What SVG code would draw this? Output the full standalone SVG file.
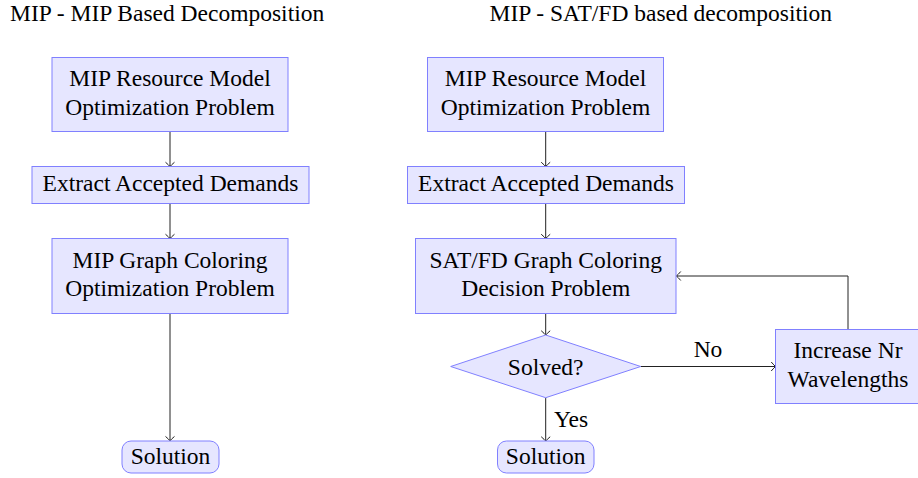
<svg xmlns="http://www.w3.org/2000/svg" width="918" height="478" viewBox="0 0 918 478" font-family="'Liberation Serif', 'DejaVu Serif', serif" font-size="23.5">
<defs>
<style>
text{font-family:'Liberation Serif','DejaVu Serif',serif;font-size:23.5px;fill:#000}
.c{text-anchor:middle}
.n{fill:#E6E6FF;stroke:#8080FF;stroke-width:1}
.e{fill:none;stroke:#222;stroke-width:1;marker-end:url(#ah)}
</style>
<marker id="ah" markerUnits="userSpaceOnUse" markerWidth="12" markerHeight="12" refX="0" refY="0" viewBox="-6 -6 12 12" orient="auto" overflow="visible">
<path d="M-4,-4.2 Q-1.2,-1 0,0 Q-1.2,1 -4,4.2" fill="none" stroke="#222" stroke-width="1" stroke-linecap="round"/>
</marker>
</defs>
<rect width="918" height="478" fill="#fff"/>
<g id="titles">
<text x="10" y="20.5">MIP - MIP Based Decomposition</text>
<text x="489.5" y="20.5">MIP - SAT/FD based decomposition</text>
</g>
<g id="connectors">
<path class="e" d="M170,131.7V166.5"/>
<path class="e" d="M170,203.7V238.5"/>
<path class="e" d="M170,313.5V440.7"/>
<path class="e" d="M545.7,131.7V166.5"/>
<path class="e" d="M545.7,203.7V238.5"/>
<path class="e" d="M545.7,313.5V335"/>
<path class="e" d="M545.7,397.7V441"/>
<path class="e" d="M640.7,366.5H775.5"/>
<path class="e" d="M848,329.5V276H676.5"/>
<text x="708" y="357" class="c">No</text>
<text x="554" y="427">Yes</text>
</g>
<g id="l-resource">
<rect class="n" x="52" y="57.5" width="236" height="74"/>
<text class="c" x="170" y="86">MIP Resource Model</text>
<text class="c" x="170" y="115">Optimization Problem</text>
</g>
<g id="l-extract">
<rect class="n" x="32" y="166.5" width="277" height="37"/>
<text class="c" x="170.5" y="191">Extract Accepted Demands</text>
</g>
<g id="l-coloring">
<rect class="n" x="52" y="238.5" width="236" height="75"/>
<text class="c" x="170" y="267.5">MIP Graph Coloring</text>
<text class="c" x="170" y="296">Optimization Problem</text>
</g>
<g id="l-solution">
<rect class="n" x="122" y="441" width="97" height="32" rx="9"/>
<text class="c" x="170.5" y="464">Solution</text>
</g>
<g id="r-resource">
<rect class="n" x="427.5" y="57.5" width="236" height="74"/>
<text class="c" x="545.5" y="86">MIP Resource Model</text>
<text class="c" x="545.5" y="115">Optimization Problem</text>
</g>
<g id="r-extract">
<rect class="n" x="407.5" y="166.5" width="277" height="37"/>
<text class="c" x="546" y="191">Extract Accepted Demands</text>
</g>
<g id="r-coloring">
<rect class="n" x="415.5" y="238.5" width="260.5" height="75"/>
<text class="c" x="545.7" y="267.5">SAT/FD Graph Coloring</text>
<text class="c" x="545.7" y="296">Decision Problem</text>
</g>
<g id="r-solved">
<polygon class="n" points="450.7,366.5 545.7,335 640.7,366.5 545.7,397.7"/>
<text class="c" x="545.7" y="375">Solved?</text>
</g>
<g id="r-increase">
<rect class="n" x="775.5" y="329.5" width="145" height="74"/>
<text class="c" x="848" y="357.5">Increase Nr</text>
<text class="c" x="848" y="387">Wavelengths</text>
</g>
<g id="r-solution">
<rect class="n" x="497.5" y="441" width="96.5" height="32" rx="9"/>
<text class="c" x="545.7" y="464">Solution</text>
</g>
</svg>
